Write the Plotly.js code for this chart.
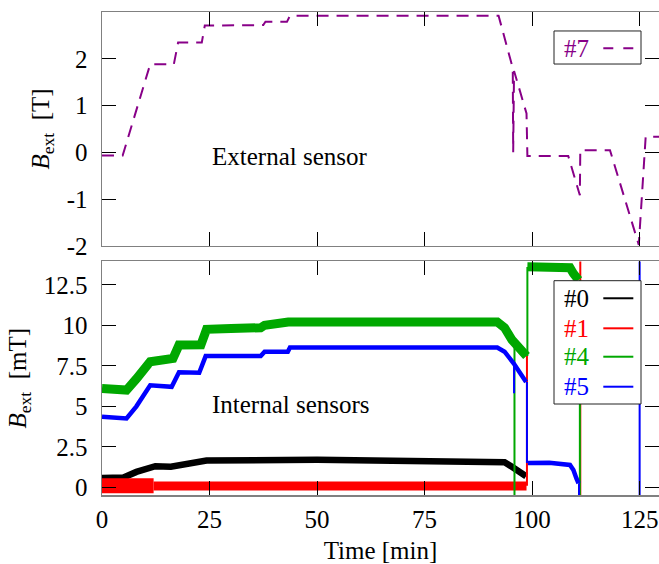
<!DOCTYPE html>
<html>
<head>
<meta charset="utf-8">
<script src="https://cdn.plot.ly/plotly-3.0.1.min.js"></script>
<style>html,body{margin:0;padding:0;background:#fff;}#chart{width:659px;height:564px;}</style>
</head>
<body>
<div id="chart"></div>
<script>
// ---- tick labels ----
const timeTicks = [0, 25, 50, 75, 100, 125];
const timeTickText = ["0", "25", "50", "75", "100", "125"];
const extTicks = [-2, -1, 0, 1, 2, 3];
const extTickText = ["-2", "-1", "0", "1", "2", "3"];
const intTicks = [0, 2.5, 5, 7.5, 10, 12.5];
const intTickText = ["0", "2.5", "5", "7.5", "10", "12.5"];

// ---- external sensor #7 [T] ----
const t7 = [0, 4.8, 11.2, 16.7, 17.7, 23.2, 23.9, 37.5, 38.0, 43.0, 43.7, 92.2, 95.5, 95.6, 95.8, 98.7, 98.9, 108.4, 111.1, 111.2, 118.1, 124.8, 126.4, 129.5];
const b7 = [-0.07, -0.07, 1.88, 1.88, 2.35, 2.35, 2.71, 2.72, 2.79, 2.79, 2.92, 2.92, 1.80, 0.0, 1.74, 0.83, -0.08, -0.08, -0.92, 0.045, 0.045, -1.98, 0.33, 0.33];

// ---- internal sensor #0 [mT] ----
const t0 = [0, 5, 8, 12.4, 16, 18, 24.3, 50, 91.9, 93.6, 95.3, 98.6];
const b0 = [0.58, 0.6, 0.95, 1.3, 1.27, 1.35, 1.65, 1.7, 1.65, 1.55, 1.27, 0.68];

// ---- internal sensor #1 [mT] ----
const t1Early = [0, 12];
const b1Early = [0.1, 0.1];
const t1 = [12, 98.7];
const b1 = [0.08, 0.08];
const t1Spike = [98.8, 98.8, null, 111.2, 111.2];
const b1Spike = [0.1, 8.1, null, -1, 15];

// ---- internal sensor #4 [mT] ----
const t4 = [0, 5.7, 8, 11.2, 16.5, 17.9, 23, 24.3, 30, 36.9, 37.8, 43.3, 91.9, 93.6, 95.3, 98.7];
const b4 = [6.1, 6.0, 6.7, 7.75, 7.95, 8.78, 8.8, 9.75, 9.8, 9.85, 10.0, 10.2, 10.2, 9.85, 9.1, 8.1];
const t4Top = [98.9, 104, 108.8, 109.6, 110.8];
const b4Top = [13.62, 13.65, 13.55, 13.2, 12.8];
const t4Spike = [95.9, 95.9, null, 98.9, 98.9, null, 111.1, 111.1];
const b4Spike = [9.1, -1, null, 8.1, 13.6, null, 12.8, -1];

// ---- internal sensor #5 [mT] ----
const t5 = [0, 5.7, 8, 11.2, 16.2, 17.9, 22.6, 24.1, 36.9, 37.8, 43.2, 43.7, 91.9, 93.6, 95.7, 98.6];
const b5 = [4.36, 4.25, 5.0, 6.3, 6.2, 7.1, 7.07, 8.1, 8.1, 8.37, 8.37, 8.63, 8.63, 8.37, 7.65, 6.5];
const t5Low = [99.0, 104, 108.8, 109.6, 110.3, 110.8];
const b5Low = [1.5, 1.52, 1.38, 1.07, 0.55, 0.25];
const t5Spike = [95.8, 95.8, null, 98.8, 98.8, null, 110.9, 110.9, null, 125, 125];
const b5Spike = [7.6, 5.8, null, 6.5, 1.5, null, 0.25, -1, null, -1, 15];

// ---- legend entries ----
const legendNames = ["#0", "#1", "#4", "#5"];
const legendColors = ["#000000", "#ff0000", "#00a800", "#0000ff"];
const topLegendName = "#7";
const purple = "#880088";

const FONT = "'Liberation Serif', 'Times New Roman', serif";
function f(size, color) { return {family: FONT, size: size, color: color || "#000"}; }

function band(x, y, color, width, xa, ya) {
  return {x: x, y: y, type: "scatter", mode: "lines", xaxis: xa, yaxis: ya,
          line: {color: color, width: width}, showlegend: false, hoverinfo: "skip",
          connectgaps: false};
}

const traces = [
  {x: t7, y: b7, type: "scatter", mode: "lines", xaxis: "x", yaxis: "y",
   line: {color: purple, width: 2, dash: "12px,8px"}, showlegend: false},
  band(t0, b0, legendColors[0], 6.5, "x2", "y2"),
  band(t1Early, b1Early, legendColors[1], 15, "x2", "y2"),
  band(t1, b1, legendColors[1], 9, "x2", "y2"),
  band(t1Spike, b1Spike, legendColors[1], 2, "x2", "y2"),
  band(t4, b4, legendColors[2], 9, "x2", "y2"),
  band(t4Top, b4Top, legendColors[2], 9, "x2", "y2"),
  band(t4Spike, b4Spike, legendColors[2], 2, "x2", "y2"),
  band(t5, b5, legendColors[3], 4.5, "x2", "y2"),
  band(t5Low, b5Low, legendColors[3], 4.5, "x2", "y2"),
  band(t5Spike, b5Spike, legendColors[3], 2, "x2", "y2")
];

// legend geometry (paper coords)
const boxX0 = 0.8115, boxX1 = 0.9677;
const textX = 0.8253, lineX0 = 0.9000, lineX1 = 0.9539;
const rowY = [0.4073, 0.3451, 0.2863, 0.2242];

const shapes = [
  {type: "rect", xref: "paper", yref: "paper", x0: boxX0, x1: boxX1, y0: 0.1884, y1: 0.4437,
   fillcolor: "#ffffff", line: {color: "#222", width: 1}, layer: "above"},
  {type: "rect", xref: "paper", yref: "paper", x0: boxX0, x1: boxX1, y0: 0.8923, y1: 0.9607,
   fillcolor: "#ffffff", line: {color: "#222", width: 1}, layer: "above"},
  {type: "line", xref: "paper", yref: "paper", x0: lineX0, x1: lineX1, y0: 0.9248, y1: 0.9248,
   line: {color: purple, width: 2, dash: "10px,10px"}, layer: "above"}
];
legendNames.forEach((n, i) => {
  shapes.push({type: "line", xref: "paper", yref: "paper", x0: lineX0, x1: lineX1,
               y0: rowY[i], y1: rowY[i], line: {color: legendColors[i], width: 2}, layer: "above"});
});

const annotations = [
  {xref: "x", yref: "y", x: 25, y: -0.08, text: "External sensor", showarrow: false,
   xanchor: "left", yanchor: "middle", font: f(25)},
  {xref: "x2", yref: "y2", x: 25, y: 5.1, text: "Internal sensors", showarrow: false,
   xanchor: "left", yanchor: "middle", font: f(25)},
  {xref: "paper", yref: "paper", x: textX, y: 0.9248, text: topLegendName, showarrow: false,
   xanchor: "left", yanchor: "middle", font: f(25, purple)}
];
legendNames.forEach((n, i) => {
  annotations.push({xref: "paper", yref: "paper", x: textX, y: rowY[i], text: n, showarrow: false,
    xanchor: "left", yanchor: "middle", font: f(25, legendColors[i])});
});

function axis(extra) {
  return Object.assign({
    showline: true, linecolor: "#808080", linewidth: 1.5, mirror: "ticks",
    ticks: "inside", ticklen: 14, tickwidth: 1, tickcolor: "#000",
    showgrid: false, zeroline: false, tickfont: f(25)
  }, extra);
}

const layout = {
  width: 659, height: 564,
  margin: {l: 102, r: 0, t: 12, b: 69},
  paper_bgcolor: "#fff", plot_bgcolor: "#fff",
  font: f(25),
  showlegend: false,
  xaxis: axis({domain: [0, 1], range: [0, 129.5], anchor: "y",
    tickvals: timeTicks, ticktext: timeTickText, showticklabels: false}),
  yaxis: axis({domain: [0.516, 1], range: [-2, 3], anchor: "x",
    tickvals: extTicks, ticktext: extTickText, ticklabelstandoff: 8,
    title: {text: "<i>B</i><sub>ext</sub>  [T]", font: f(25), standoff: 10}}),
  xaxis2: axis({domain: [0, 1], range: [0, 129.5], anchor: "y2",
    tickvals: timeTicks, ticktext: timeTickText, ticklabelstandoff: 1,
    title: {text: "Time [min]", font: f(25), standoff: 10}}),
  yaxis2: axis({domain: [0, 0.4835], range: [-0.475, 13.94], anchor: "x2",
    tickvals: intTicks, ticktext: intTickText, ticklabelstandoff: 8,
    title: {text: "<i>B</i><sub>ext</sub>  [mT]", font: f(25), standoff: 10}}),
  shapes: shapes,
  annotations: annotations
};

Plotly.newPlot("chart", traces, layout, {staticPlot: true, displayModeBar: false});
</script>
</body>
</html>
